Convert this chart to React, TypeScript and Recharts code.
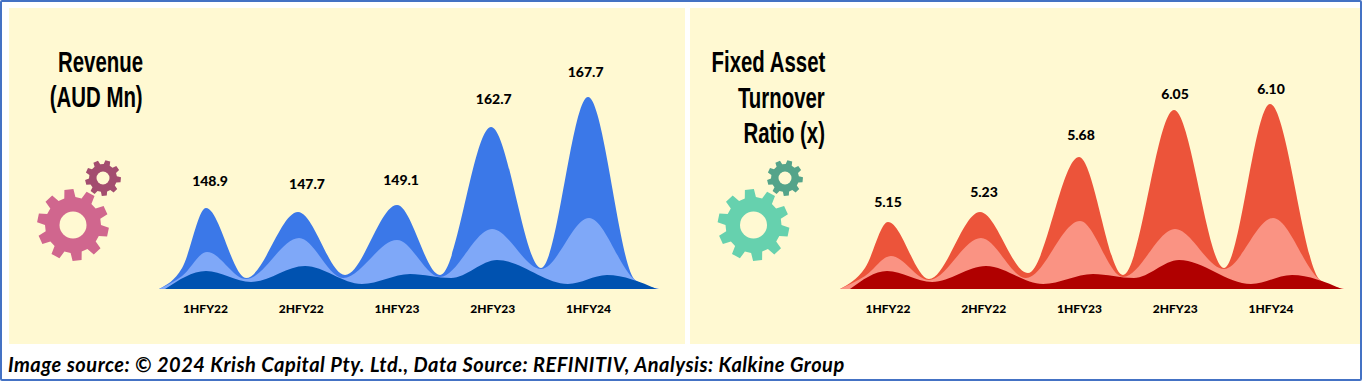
import { AreaChart, Area, XAxis, YAxis, ReferenceDot } from 'recharts';

const periods = ['1HFY22', '2HFY22', '1HFY23', '2HFY23', '1HFY24'];
const periodTicks = [1, 2, 3, 4, 5];

// Revenue: drawn heights of the three layered humps
const revenueLabels = ['148.9', '147.7', '149.1', '162.7', '167.7'];
const revenueLabelPos = [1.047, 2.06, 3.042, 4.01, 4.97];
const revenueLabelHeight = [108, 105, 109, 190, 217];
const revenueBackPos = [0.514, 0.755, 1.005, 1.423, 1.966, 2.457, 3.0, 3.449, 3.982, 4.504, 4.995, 5.486, 5.736];
const revenueBack = [0, 21, 81, 11, 77, 14, 84, 14, 162, 21, 192, 9, 0];
const revenueMidPos = [0.514, 0.755, 1.016, 1.423, 1.977, 2.436, 3.0, 3.449, 3.992, 4.504, 5.005, 5.486, 5.736];
const revenueMid = [0, 13, 37, 10, 51, 11, 49, 12, 60, 20, 71, 9, 0];
const revenueFrontPos = [0.577, 1.005, 1.475, 2.039, 2.634, 3.136, 3.564, 4.044, 4.785, 5.192, 5.715];
const revenueFront = [0, 18, 7, 23, 5, 15, 11, 29, 5, 14, 0];

// Fixed asset turnover
const turnoverLabels = ['5.15', '5.23', '5.68', '6.05', '6.10'];
const turnoverLabelPos = [1.0, 2.003, 3.016, 3.997, 5.0];
const turnoverLabelHeight = [87, 97, 154, 195, 200];
const turnoverBackPos = [0.499, 0.76, 1.0, 1.428, 1.961, 2.462, 2.995, 3.454, 3.987, 4.509, 4.99, 5.512, 5.762];
const turnoverBack = [0, 21, 67, 10, 77, 16, 132, 14, 179, 21, 185, 9, 0];
const turnoverMidPos = [0.499, 0.76, 1.031, 1.428, 1.971, 2.441, 3.005, 3.454, 3.997, 4.509, 5.021, 5.512, 5.762];
const turnoverMid = [0, 13, 33, 9, 51, 11, 68, 12, 60, 20, 71, 9, 0];
const turnoverFrontPos = [0.603, 0.99, 1.46, 2.023, 2.619, 3.141, 3.569, 4.039, 4.791, 5.219, 5.741];
const turnoverFront = [0, 18, 7, 23, 5, 15, 11, 29, 5, 14, 0];

const PANEL_BG = '#fff9d2';

const rows = (pos: number[], values: number[]) => pos.map((p, i) => ({ pos: p, value: values[i] }));

interface HumpProps {
  left: number;
  width: number;
  domain: [number, number];
  back: any[];
  mid: any[];
  front: any[];
  colors: string[];
  labels: string[];
  labelPos: number[];
  labelHeight: number[];
}

const HumpChart = ({ left, width, domain, back, mid, front, colors, labels, labelPos, labelHeight }: HumpProps) => {
  return (
    <div style={{ position: 'absolute', left, top: 49 }}>
      <AreaChart width={width} height={280} margin={{ top: 0, right: 0, bottom: 10, left: 0 }}>
        <XAxis
          type="number"
          dataKey="pos"
          domain={domain}
          ticks={periodTicks}
          allowDataOverflow
          axisLine={false}
          tickLine={false}
          tickMargin={9}
          height={30}
          tickFormatter={(v: number) => periods[v - 1]}
          tick={{ fill: '#000', fontSize: 12, fontWeight: 900, fontFamily: 'Lato' }}
        />
        <YAxis hide domain={[0, 240]} />
        <Area data={back} dataKey="value" type="monotoneX" fill={colors[0]} fillOpacity={1} stroke="none" dot={false} activeDot={false} isAnimationActive={false} />
        <Area data={mid} dataKey="value" type="monotoneX" fill={colors[1]} fillOpacity={1} stroke="none" dot={false} activeDot={false} isAnimationActive={false} />
        <Area data={front} dataKey="value" type="monotoneX" fill={colors[2]} fillOpacity={1} stroke="none" dot={false} activeDot={false} isAnimationActive={false} />
        {labels.map((label, i) => (
          <ReferenceDot
            key={label}
            x={labelPos[i]}
            y={labelHeight[i]}
            r={0}
            label={{ value: label, position: 'center', fill: '#000', fontSize: 14, fontWeight: 900, fontFamily: 'Lato' }}
          />
        ))}
      </AreaChart>
    </div>
  );
};

const gearPath = (cx: number, cy: number, ro: number, ri: number, teeth: number, rot: number) => {
  const pts: string[] = [];
  const step = (Math.PI * 2) / teeth;
  for (let i = 0; i < teeth; i++) {
    const a = rot + i * step;
    [[-0.32, ri], [-0.2, ro], [0.2, ro], [0.32, ri]].forEach(([f, r]) => {
      const t = a + f * step;
      pts.push(`${(cx + r * Math.cos(t)).toFixed(1)},${(cy + r * Math.sin(t)).toFixed(1)}`);
    });
  }
  return 'M' + pts.join('L') + 'Z';
};

const Gear = ({ cx, cy, ro, ri, hole, teeth, rot, color }: any) => (
  <>
    <path d={gearPath(cx, cy, ro, ri, teeth, rot)} fill={color} />
    <circle cx={cx} cy={cy} r={hole} fill={PANEL_BG} />
  </>
);

const titleStyle = (top: number, right: number): React.CSSProperties => ({
  position: 'absolute',
  top,
  right,
  fontFamily: 'Liberation Sans',
  fontWeight: 700,
  fontSize: 30,
  lineHeight: '30px',
  color: '#000',
  whiteSpace: 'nowrap',
  transform: 'scaleX(0.68)',
  transformOrigin: 'right center',
});

const App = () => {
  return (
    <div style={{ position: 'absolute', left: 0, top: 0, width: 1362, height: 381, background: '#fff', overflow: 'hidden' }}>
      <div style={{ position: 'absolute', left: 9, top: 8, width: 676, height: 336, background: PANEL_BG }} />
      <div style={{ position: 'absolute', left: 690, top: 8, width: 670, height: 336, background: PANEL_BG }} />

      <svg width={1362} height={381} style={{ position: 'absolute', left: 0, top: 0 }}>
        <Gear cx={73} cy={225} ro={36} ri={28} hole={13.5} teeth={10} rot={0.2} color="#d0668e" />
        <Gear cx={103} cy={178} ro={18} ri={14} hole={6.5} teeth={9} rot={0.1} color="#a34d6f" />
        <Gear cx={753.5} cy={225} ro={36} ri={28} hole={13.5} teeth={10} rot={0.2} color="#66d1ae" />
        <Gear cx={785} cy={178} ro={18} ri={14} hole={6.5} teeth={9} rot={0.1} color="#54a48a" />
      </svg>

      <div style={titleStyle(47, 1219)}>Revenue</div>
      <div style={titleStyle(82, 1219)}>(AUD Mn)</div>
      <div style={titleStyle(47, 537)}>Fixed Asset</div>
      <div style={titleStyle(83, 537)}>Turnover</div>
      <div style={titleStyle(118, 537)}>Ratio (x)</div>

      <HumpChart
        left={159}
        width={500}
        domain={[0.514, 5.736]}
        back={rows(revenueBackPos, revenueBack)}
        mid={rows(revenueMidPos, revenueMid)}
        front={rows(revenueFrontPos, revenueFront)}
        colors={['#3b78e8', '#7fa8f8', '#0052b0']}
        labels={revenueLabels}
        labelPos={revenueLabelPos}
        labelHeight={revenueLabelHeight}
      />
      <HumpChart
        left={840}
        width={504}
        domain={[0.499, 5.762]}
        back={rows(turnoverBackPos, turnoverBack)}
        mid={rows(turnoverMidPos, turnoverMid)}
        front={rows(turnoverFrontPos, turnoverFront)}
        colors={['#ec543a', '#fa9383', '#b00000']}
        labels={turnoverLabels}
        labelPos={turnoverLabelPos}
        labelHeight={turnoverLabelHeight}
      />

      <div style={{ position: 'absolute', left: 8, top: 352, fontFamily: 'Lato', fontWeight: 700, fontStyle: 'italic', fontSize: 20, letterSpacing: 0.5, lineHeight: '24px', color: '#000', whiteSpace: 'nowrap' }}>
        Image source: © 2024 Krish Capital Pty. Ltd., Data Source: REFINITIV, Analysis: Kalkine Group
      </div>

      <div style={{ position: 'absolute', left: 0, top: 0, width: 1362, height: 381, boxSizing: 'border-box', border: '2px solid #4472c4', borderRadius: 2 }} />
    </div>
  );
};

export default App;
